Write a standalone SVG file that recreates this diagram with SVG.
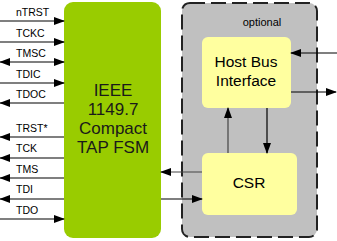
<svg xmlns="http://www.w3.org/2000/svg" width="337" height="241" viewBox="0 0 337 241">
<defs>
<marker id="ah" markerWidth="11" markerHeight="8" refX="10" refY="4" orient="auto-start-reverse" markerUnits="userSpaceOnUse">
<path d="M0,0 L11,4 L0,8 z" fill="#000"/>
</marker>
<style>
.sig{font-family:"Liberation Sans",Arial,sans-serif;font-size:10.5px;fill:#000}
.big{font-family:"Liberation Sans",Arial,sans-serif;font-size:17px;fill:#1a1a1a;text-anchor:middle}
.mid{font-family:"Liberation Sans",Arial,sans-serif;font-size:15.5px;fill:#000;text-anchor:middle}
.ln{stroke:#000;stroke-width:1.2;fill:none}
.gl{stroke:#444;stroke-width:1.2;fill:none}
</style>
</defs>
<rect width="337" height="241" fill="#fff"/>
<g id="optional">
<rect x="182" y="3" width="135" height="234" rx="8" fill="#c0c0c0" stroke="#222" stroke-width="2" stroke-dasharray="15,6"/>
<text x="262" y="26" class="sig" style="font-size:11px;text-anchor:middle">optional</text>
</g>
<g id="tapfsm">
<rect x="64" y="2" width="97" height="236" rx="9" fill="#99cc00"/>
<text class="big" x="113" y="96">IEEE</text>
<text class="big" x="113" y="115">1149.7</text>
<text class="big" x="113" y="134">Compact</text>
<text class="big" x="113" y="153">TAP FSM</text>
</g>
<g id="hbi">
<rect x="202" y="37" width="89" height="71" rx="6" fill="#ffff9f"/>
<text class="mid" x="246" y="67">Host Bus</text>
<text class="mid" x="246" y="86">Interface</text>
</g>
<g id="csr">
<rect x="202" y="153" width="95" height="62" rx="6" fill="#ffff9f"/>
<text class="mid" x="249" y="188">CSR</text>
</g>
<g id="labels">
<text class="sig" x="16" y="16">nTRST</text>
<text class="sig" x="16" y="37">TCKC</text>
<text class="sig" x="16" y="57">TMSC</text>
<text class="sig" x="16" y="78">TDIC</text>
<text class="sig" x="16" y="98">TDOC</text>
<text class="sig" x="16" y="132">TRST*</text>
<text class="sig" x="16" y="152">TCK</text>
<text class="sig" x="16" y="173">TMS</text>
<text class="sig" x="16" y="193">TDI</text>
<text class="sig" x="16" y="214">TDO</text>
</g>
<g id="connectors">
<line class="ln" x1="0" y1="21" x2="64" y2="21" marker-end="url(#ah)"/>
<line class="ln" x1="0" y1="42" x2="64" y2="42" marker-end="url(#ah)"/>
<line class="ln" x1="0" y1="62" x2="64" y2="62" marker-start="url(#ah)" marker-end="url(#ah)"/>
<line class="ln" x1="0" y1="83" x2="64" y2="83" marker-end="url(#ah)"/>
<line class="ln" x1="64" y1="103" x2="0" y2="103" marker-end="url(#ah)"/>
<line class="ln" x1="64" y1="137" x2="0" y2="137" marker-end="url(#ah)"/>
<line class="ln" x1="64" y1="158" x2="0" y2="158" marker-end="url(#ah)"/>
<line class="ln" x1="64" y1="178" x2="0" y2="178" marker-end="url(#ah)"/>
<line class="ln" x1="64" y1="199" x2="0" y2="199" marker-end="url(#ah)"/>
<line class="ln" x1="0" y1="219" x2="64" y2="219" marker-end="url(#ah)"/>
<line class="gl" x1="202" y1="172" x2="161" y2="172" marker-end="url(#ah)"/>
<line class="ln" x1="161" y1="199" x2="202" y2="199" marker-end="url(#ah)"/>
<line class="gl" x1="228" y1="153" x2="228" y2="108" marker-end="url(#ah)"/>
<line class="ln" x1="267" y1="108" x2="267" y2="153" marker-end="url(#ah)"/>
<line class="ln" x1="337" y1="53" x2="291" y2="53" marker-end="url(#ah)"/>
<line class="ln" x1="291" y1="92" x2="336" y2="92" marker-end="url(#ah)"/>
</g>
</svg>
